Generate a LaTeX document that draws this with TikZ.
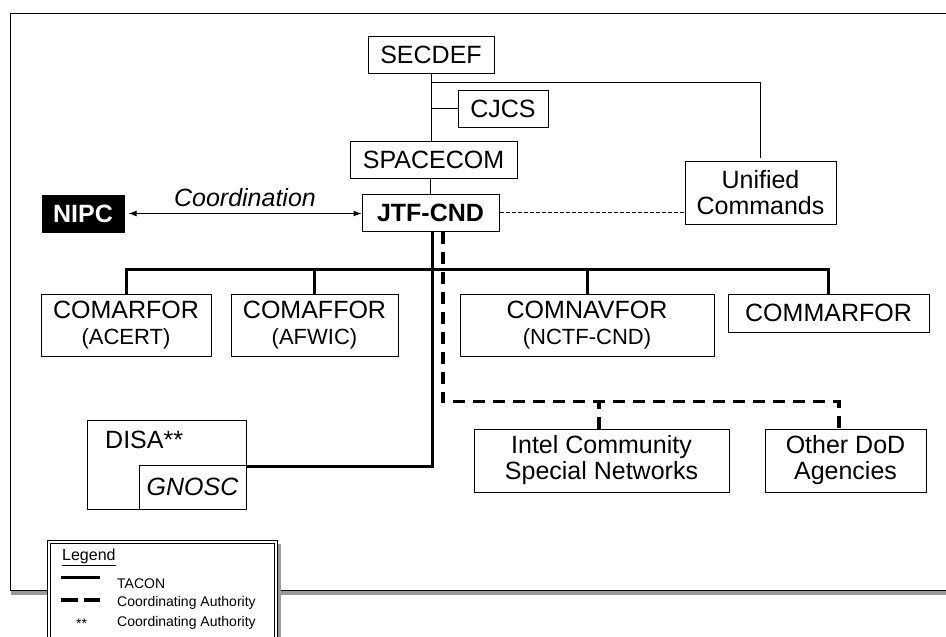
\documentclass[tikz,border=0pt]{standalone}
\usepackage{fontspec}
\setmainfont{Liberation Sans}
\usetikzlibrary{arrows.meta}
\tikzset{
    unit/.style={draw, fill=white, line width=1pt, inner sep=0pt, align=center,
        font=\fontsize{25}{26}\selectfont},
    link/.style={line width=1pt},
    tacon/.style={line width=3pt},
    coordauth/.style={line width=3.5pt, dash pattern=on 12pt off 8pt},
    legenditem/.style={anchor=west, inner sep=0pt, font=\fontsize{14}{16}\selectfont},
}
\newcommand\UnitBox[6]{%
    \node[unit, minimum width=#4pt, minimum height=#5pt] (#1) at (#2,#3) {#6};
}
\newcommand\SubLine[1]{\\{\fontsize{22}{25}\selectfont #1}}

\begin{document}
\begin{tikzpicture}[x=1pt,y=-1pt]
    \useasboundingbox (0,0) rectangle (946,637);
    \draw[gray!80, line width=4pt] (13,16) rectangle (990,593);
    \draw[line width=1pt, fill=white] (10,13) rectangle (990,590);

    \UnitBox{Secdef}{431}{54.5}{126}{37}{SECDEF}
    \UnitBox{Cjcs}{503}{108.5}{90}{37}{CJCS}
    \UnitBox{Spacecom}{433.5}{159.5}{167}{37}{SPACECOM}
    \UnitBox{Jtf}{430.5}{212.5}{137}{37}{\bfseries JTF-CND}
    \UnitBox{Unified}{760.5}{192.5}{151}{63}{Unified\\Commands}
    \node[unit, fill=black, text=white, minimum width=82pt, minimum height=37pt] (Nipc) at (83,213.5) {\bfseries NIPC};

    \UnitBox{Comarfor}{126}{325}{170}{62}{COMARFOR\SubLine{(ACERT)}}
    \UnitBox{Comaffor}{314.5}{325}{167}{62}{COMAFFOR\SubLine{(AFWIC)}}
    \UnitBox{Comnavfor}{587}{325}{254}{62}{COMNAVFOR\SubLine{(NCTF-CND)}}
    \UnitBox{Commarfor}{828.5}{313}{201}{38}{COMMARFOR}

    \UnitBox{Disa}{166.5}{464.5}{159}{89}{}
    \node[anchor=west, inner sep=0pt, font=\fontsize{25}{26}\selectfont] (DisaLabel) at (105,440) {DISA**};
    \UnitBox{Gnosc}{192.5}{487}{107}{44}{\itshape GNOSC}
    \UnitBox{Intel}{601.5}{460.5}{255}{63}{Intel Community\\Special Networks}
    \UnitBox{OtherDod}{845.5}{460.5}{161}{63}{Other DoD\\Agencies}

    \draw[link] (Secdef.south) -- (Spacecom.north -| Secdef.south);
    \draw[link] (Secdef.south |- Cjcs.west) -- (Cjcs.west);
    \draw[link] ([yshift=-9pt]Secdef.south) -| ([yshift=3pt]Unified.north);
    \draw[link] (Spacecom.south -| Jtf.north) -- (Jtf.north);
    \draw[link, {Latex[length=8pt,width=6pt]}-{Latex[length=8pt,width=6pt]}]
        ([xshift=4pt]Nipc.east) -- (Nipc.east -| Jtf.west)
        node[midway, above=3pt, font=\fontsize{25}{26}\selectfont\itshape] (CoordLabel) {Coordination};
    \draw[line width=0.8pt, dash pattern=on 4pt off 2pt] (Jtf.east) -- (Jtf.east -| Unified.west);

    \draw[tacon] (Comarfor.north) -- ++(0,-24) coordinate(BusStart) -| (Commarfor.north);
    \draw[tacon] (Comaffor.north) -- (Comaffor.north |- BusStart);
    \draw[tacon] (Comnavfor.north) -- (Comnavfor.north |- BusStart);
    \draw[tacon] ([xshift=1.5pt]Jtf.south) |- ([yshift=-2pt]Gnosc.north east);
    \draw[coordauth] ([xshift=12.5pt]Jtf.south) |- ([xshift=-6.5pt,yshift=27pt]OtherDod.north)
        -- ([xshift=-6.5pt]OtherDod.north);
    \draw[coordauth] ([xshift=-2.5pt]Intel.north) -- ++(0,-27);

    \begin{scope}
        \draw[gray!80, line width=3pt] (279,544) -- (279,660);
        \draw[line width=1pt, fill=white] (47,540) rectangle (277,660);
        \draw[line width=1pt] (50,543) rectangle (274,660);
        \node[anchor=west, inner sep=0pt, font=\fontsize{16}{18}\selectfont] (LegendTitle) at (62,557) {\underline{Legend}};
        \draw[tacon] (61,577) coordinate(TaconStart) -- (100,577);
        \node[legenditem] (TaconText) at (117,584) {TACON};
        \draw[coordauth, dash pattern=on 17pt off 6pt] (61,600) -- (100,600);
        \node[legenditem] (CoordText) at (117,603) {Coordinating Authority};
        \node[legenditem] (StarMark) at (76,624) {**};
        \node[legenditem] (StarText) at (117,623) {Coordinating Authority};
    \end{scope}
\end{tikzpicture}
\end{document}
